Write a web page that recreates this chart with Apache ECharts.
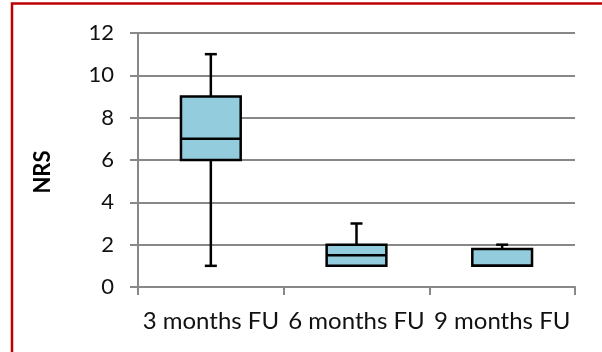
<!DOCTYPE html>
<html>
<head>
<meta charset="utf-8">
<script src="https://cdn.jsdelivr.net/npm/echarts@6/dist/echarts.min.js"></script>
<style>
html,body{margin:0;padding:0;background:#fff;}
#chart{width:602px;height:352px;}
</style>
</head>
<body>
<div id="chart"></div>
<script>
var categories = ['3 months FU', '6 months FU', '9 months FU'];
var minVals = [1, 1, 1];
var q1Vals = [6, 1, 1];
var medianVals = [7, 1.5, 1];
var q3Vals = [9, 2, 1.8];
var maxVals = [11, 3, 2];
var yTicks = [0, 2, 4, 6, 8, 10, 12];

var boxData = categories.map(function (c, i) {
  return [i, minVals[i], q1Vals[i], medianVals[i], q3Vals[i], maxVals[i]];
});

var chart = echarts.init(document.getElementById('chart'), null, {renderer: 'canvas'});
var lineCol = '#000';
var option = {
  animation: false,
  grid: {left: 138, right: 27, top: 33, bottom: 65},
  xAxis: {
    type: 'category',
    data: categories,
    boundaryGap: true,
    axisLine: {show: true, lineStyle: {color: '#888', width: 2}},
    axisTick: {show: true, length: 8, lineStyle: {color: '#888', width: 2}},
    axisLabel: {interval: 0, margin: 22, fontFamily: 'Lato', fontSize: 24, color: '#111'},
    splitLine: {show: false}
  },
  yAxis: {
    type: 'value',
    min: yTicks[0],
    max: yTicks[yTicks.length - 1],
    interval: 2,
    axisLine: {show: true, lineStyle: {color: '#888', width: 2}},
    axisTick: {show: true, length: 8, lineStyle: {color: '#888', width: 2}},
    axisLabel: {margin: 24, fontFamily: 'Lato', fontSize: 22, color: '#111'},
    splitLine: {show: true, lineStyle: {color: '#888', width: 2}}
  },
  graphic: [
    {
      type: 'rect', silent: true, z: 100,
      shape: {x: 12, y: 3.5, width: 700, height: 400},
      style: {fill: 'none', stroke: '#C00000', lineWidth: 2.5}
    },
    {
      type: 'text', silent: true,
      x: 43, y: 172, rotation: Math.PI / 2,
      style: {text: 'NRS', fontFamily: 'Lato', fontWeight: 'bold', fontSize: 22, fill: '#000', align: 'center', verticalAlign: 'middle'}
    }
  ],
  series: [{
    type: 'custom',
    data: boxData,
    renderItem: function (params, api) {
      var idx = api.value(0);
      var pMin = api.coord([idx, api.value(1)]);
      var pQ1 = api.coord([idx, api.value(2)]);
      var pMed = api.coord([idx, api.value(3)]);
      var pQ3 = api.coord([idx, api.value(4)]);
      var pMax = api.coord([idx, api.value(5)]);
      var band = api.size([1, 0])[0];
      var bw = band * 0.41;
      var cx = pQ1[0];
      var capW = 12;
      var ls = {stroke: lineCol, lineWidth: 2.5, fill: 'none'};
      var children = [];
      if (pMax[1] < pQ3[1]) {
        children.push({type: 'line', shape: {x1: cx, y1: pMax[1], x2: cx, y2: pQ3[1]}, style: ls});
        children.push({type: 'line', shape: {x1: cx - capW / 2, y1: pMax[1], x2: cx + capW / 2, y2: pMax[1]}, style: ls});
      }
      if (pMin[1] > pQ1[1]) {
        children.push({type: 'line', shape: {x1: cx, y1: pQ1[1], x2: cx, y2: pMin[1]}, style: ls});
        children.push({type: 'line', shape: {x1: cx - capW / 2, y1: pMin[1], x2: cx + capW / 2, y2: pMin[1]}, style: ls});
      }
      children.push({type: 'rect', shape: {x: cx - bw / 2, y: pQ3[1], width: bw, height: pQ1[1] - pQ3[1]},
        style: {fill: '#93CDDD', stroke: lineCol, lineWidth: 2.5}});
      children.push({type: 'line', shape: {x1: cx - bw / 2, y1: pMed[1], x2: cx + bw / 2, y2: pMed[1]}, style: ls});
      return {type: 'group', children: children};
    }
  }]
};
chart.setOption(option);
</script>
</body>
</html>
